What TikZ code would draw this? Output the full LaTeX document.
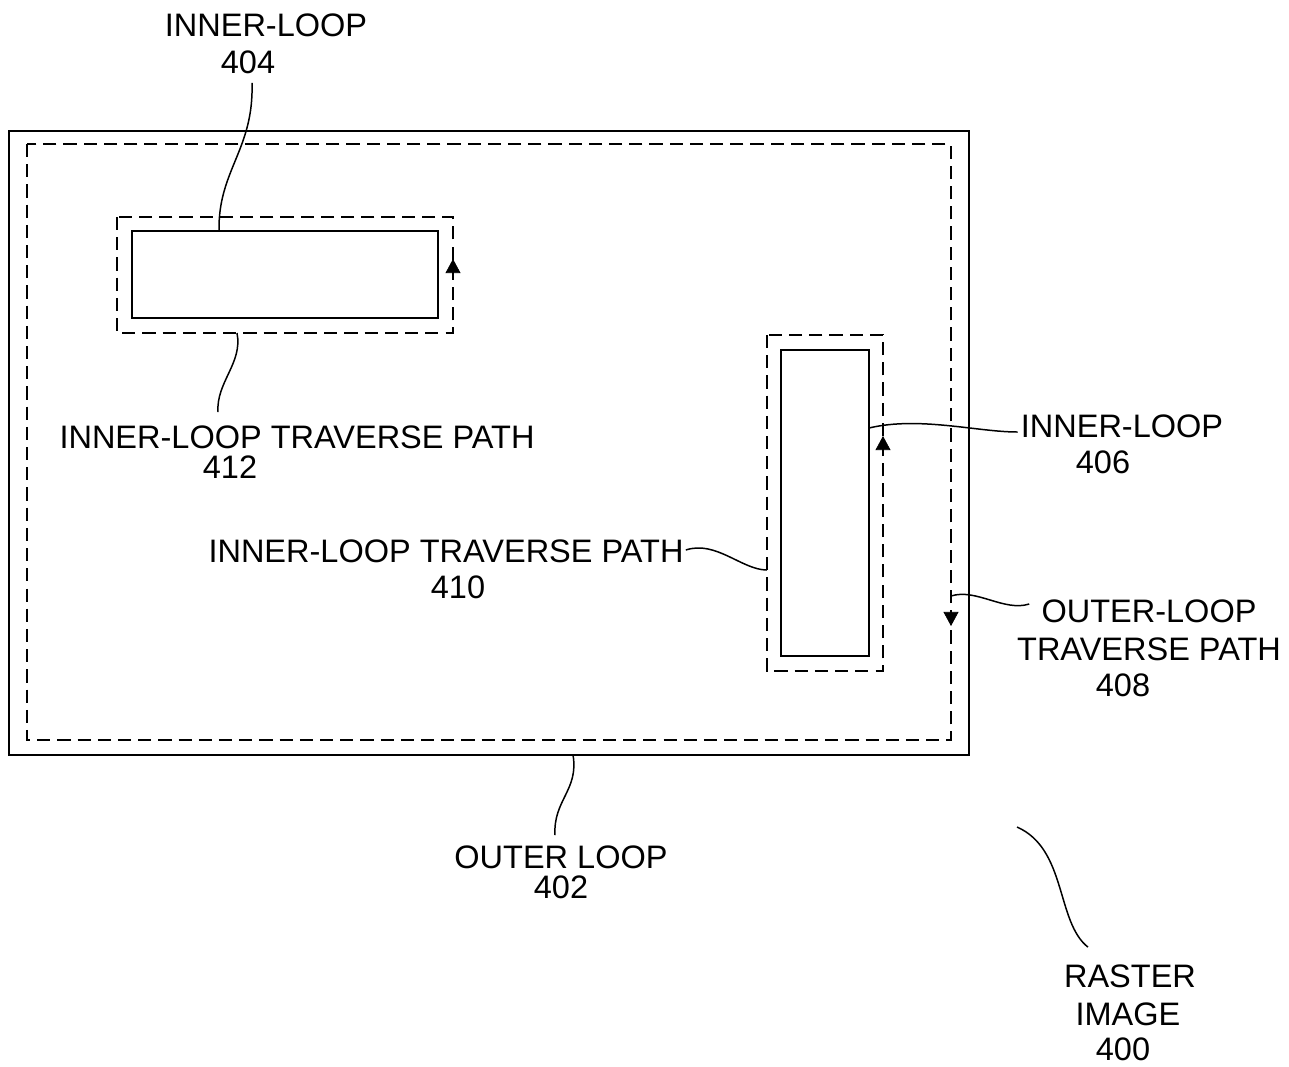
\documentclass[tikz,border=0pt]{standalone}
\usepackage{fontspec}
\setmainfont{Liberation Sans}
\usetikzlibrary{%
	calc,%
	arrows.meta
}

\begin{document}
\begin{tikzpicture}[x=0.02cm,y=-0.02cm,
		loopline/.style={line width=1.1pt},
		tracepath/.style={line width=1.1pt,dash pattern=on 7.5pt off 4pt},
		leader/.style={line width=0.85pt},
		flowtip/.style={-{Triangle[length=8pt,width=8.5pt]}},
		lbl/.style={inner sep=0pt,font=\fontsize{18.5pt}{21pt}\selectfont}]
			\useasboundingbox (0,0) rectangle (1289,1066);
			% Loops (solid)
			\draw[loopline] (9,131) rectangle (969,755);
			\draw[loopline] (132,231) rectangle (438,318);
			\draw[loopline] (781,350) rectangle (869,656);
			% Traverse paths (dashed)
			\draw[tracepath] (27,144) rectangle (951,740);
			\draw[tracepath] (117,217) rectangle (453,333);
			\draw[tracepath] (767,335) rectangle (883,671);
			% Direction of travel
			\draw[flowtip] (453,274) -- (453,259);
			\draw[flowtip] (883,451) -- (883,436);
			\draw[flowtip] (951,610) -- (951,626);
			
			% Leader ends on the drawing
			\coordinate (a404) at (219,231);
			\coordinate (a412) at (237,333);
			\coordinate (a406) at (869,428);
			\coordinate (a410) at (767,570);
			\coordinate (a408) at (951,596);
			\coordinate (a402) at (573,755);
			\coordinate (a400) at (1017,827);
			
			% Labels
			\node[lbl] (t404) at (266,25) {INNER-LOOP};
			\node[lbl] (n404) at (248,62) {404};
			\node[lbl] (t412) at (297,437) {INNER-LOOP TRAVERSE PATH};
			\node[lbl] (n412) at (230,467) {412};
			\node[lbl] (t406) at (1122,426) {INNER-LOOP};
			\node[lbl] (n406) at (1103,462) {406};
			\node[lbl] (t410) at (446,551) {INNER-LOOP TRAVERSE PATH};
			\node[lbl] (n410) at (458,587) {410};
			\node[lbl] (t408) at (1149,611) {OUTER-LOOP};
			\node[lbl] (u408) at (1149,649) {TRAVERSE PATH};
			\node[lbl] (n408) at (1123,685) {408};
			\node[lbl] (t402) at (561,857) {OUTER LOOP};
			\node[lbl] (n402) at (561,887) {402};
			\node[lbl] (t400) at (1130,976) {RASTER};
			\node[lbl] (u400) at (1128,1014) {IMAGE};
			\node[lbl] (n400) at (1123,1049) {400};
			
			% Leaders
			\draw[leader] ($(n404.south)+(4,9)$) .. controls +(2,67) and +(-1,-61) .. (a404);
			\draw[leader] (a412) .. controls +(6,30) and +(-2,-30) .. ($(t412.north)+(-79,-13)$);
			\draw[leader] ($(t406.west)+(-3,6)$) .. controls +(-40,0) and +(50,-12) .. (a406);
			\draw[leader] ($(t410.east)+(2,-1)$) .. controls +(30,-10) and +(-25,0) .. (a410);
			\draw[leader] ($(t408.west)+(-12,-7)$) .. controls +(-25,8) and +(25,-8) .. (a408);
			\draw[leader] (a402) .. controls +(6,35) and +(-2,-35) .. ($(t402.north)+(-6,-10)$);
			\draw[leader] (a400) .. controls +(50,22) and +(-32,-25) .. ($(t400.north)+(-42,-17)$);
		\end{tikzpicture}
\end{document}
